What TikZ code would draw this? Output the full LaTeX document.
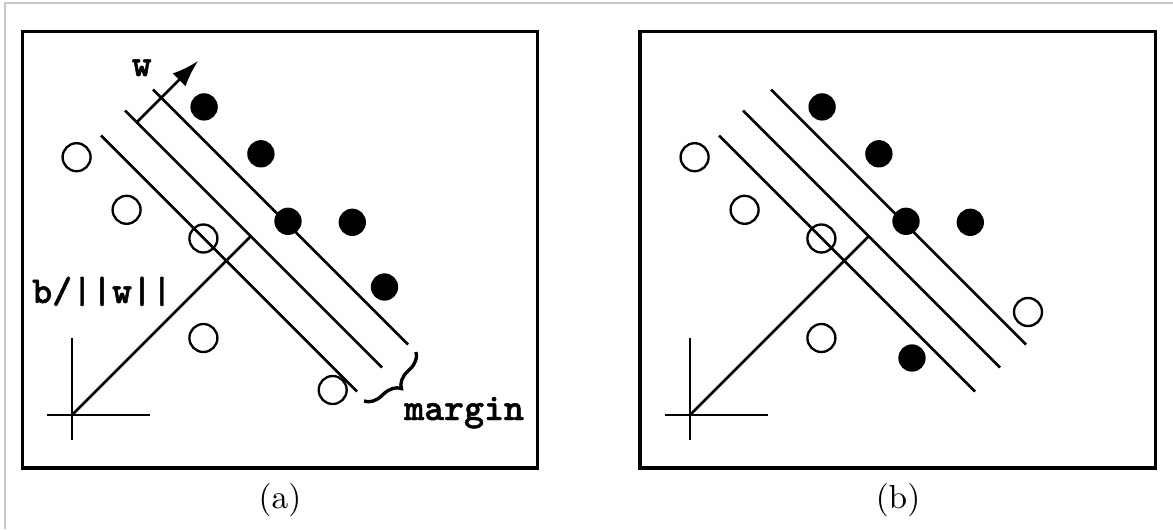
\documentclass[tikz,border=0pt]{standalone}
\usepackage{fontspec}
\usetikzlibrary{arrows.meta, decorations.pathreplacing}
\newfontfamily\marginfont[FakeBold=1.2]{lmmonolt10-bold.otf}
\definecolor{edgecol}{RGB}{200,200,200}
\definecolor{inkcol}{RGB}{0,0,0}

\begin{document}
\begin{tikzpicture}[
    x=0.3pt, y=-0.3pt,
    >=Latex,
    line width=0.75pt,
    hollowpt/.style={circle, draw=inkcol, line width=0.7pt, minimum size=8.4pt, inner sep=0pt},
    solidpt/.style={circle, fill=inkcol, minimum size=8.2pt, inner sep=0pt},
    ttlabel/.style={font=\marginfont\fontsize{11.4}{13}\selectfont, inner sep=0pt},
    panelbox/.style={line width=1pt}
  ]
  \useasboundingbox (0,0) rectangle (1173,529);

  % --- screenshot edge -------------------------------------------------
  \coordinate (EdgeTR) at (1173,3);
  \coordinate (EdgeTL) at (5,3);
  \coordinate (EdgeBL) at (5,529);
  \draw[edgecol, line width=0.4pt] (EdgeTR) -- (EdgeTL) -- (EdgeBL);

  % ======================= panel (a) ===================================
  % --- coordinates -----------------------------------------------------
  \coordinate (Origin)    at (72,415);
  \coordinate (AxisTop)   at (72,338);
  \coordinate (AxisBot)   at (72,440);
  \coordinate (AxisLeft)  at (47,415);
  \coordinate (AxisRight) at (150,415);
  \coordinate (Foot)      at (250.75,236.25);
  \coordinate (LowStart)  at (101,135.5);
  \coordinate (LowEnd)    at (357,391.5);
  \coordinate (MidStart)  at (125,110.5);
  \coordinate (MidEnd)    at (382,367.5);
  \coordinate (HighStart) at (153,89.5);
  \coordinate (HighEnd)   at (408,344.5);
  \coordinate (WBase)     at (136.75,122.25);
  \coordinate (WTip)      at (198,61);
  \coordinate (BraceTop)  at (416,352);
  \coordinate (BraceBot)  at (364,401);

  \draw[panelbox] (22.5,31.5) rectangle (537.5,468);

  % --- axes and offset -------------------------------------------------
  \draw (AxisTop) -- (AxisBot);
  \draw (AxisLeft) -- (AxisRight);
  \draw (Origin) -- (Foot);

  % --- separating lines ------------------------------------------------
  \draw (LowStart) -- (LowEnd);
  \draw (MidStart) -- (MidEnd);
  \draw (HighStart) -- (HighEnd);

  % normal vector
  \draw[-{Latex[length=8pt, width=5.5pt]}] (WBase) -- (WTip);

  % margin brace
  \draw[decorate, decoration={brace, amplitude=5pt}, line width=1pt]
    (BraceTop) -- (BraceBot);

  % --- points ----------------------------------------------------------
  \node[hollowpt] (Hol1) at (76.6,157.2) {};
  \node[hollowpt] (Hol2) at (126.6,209.8) {};
  \node[hollowpt] (Hol3) at (203.4,238.5) {};
  \node[hollowpt] (Hol4) at (203.4,338) {};
  \node[hollowpt] (Hol5) at (332.7,390) {};

  \node[solidpt] (Sol1) at (204.1,106.9) {};
  \node[solidpt] (Sol2) at (260.9,153.8) {};
  \node[solidpt] (Sol3) at (288,221.3) {};
  \node[solidpt] (Sol4) at (352.3,222.3) {};
  \node[solidpt] (Sol5) at (384.5,287) {};

  % --- labels ----------------------------------------------------------
  \node[ttlabel, anchor=base] (WLabel) at (141.7,76) {w};
  \node[ttlabel, anchor=base west] (OffsetLabel) at (31,303) {b/||w||};
  \node[ttlabel, anchor=base west] (MarginLabel) at (403,420) {margin};
  \node[anchor=base] (CapA) at (280,508) {(a)};

  % ======================= panel (b) ===================================
  \begin{scope}[shift={(618,0)}]
  \coordinate (OriginB)    at (72,415);
  \coordinate (AxisTopB)   at (72,338);
  \coordinate (AxisBotB)   at (72,440);
  \coordinate (AxisLeftB)  at (47,415);
  \coordinate (AxisRightB) at (150,415);
  \coordinate (FootB)      at (250.75,236.25);
  \coordinate (LowStartB)  at (101,135.5);
  \coordinate (LowEndB)    at (357,391.5);
  \coordinate (MidStartB)  at (125,110.5);
  \coordinate (MidEndB)    at (382,367.5);
  \coordinate (HighStartB) at (153,89.5);
  \coordinate (HighEndB)   at (408,344.5);

  \draw[panelbox] (22,31.5) rectangle (537.5,468);

  \draw (AxisTopB) -- (AxisBotB);
  \draw (AxisLeftB) -- (AxisRightB);
  \draw (OriginB) -- (FootB);

  \draw (LowStartB) -- (LowEndB);
  \draw (MidStartB) -- (MidEndB);
  \draw (HighStartB) -- (HighEndB);

  \node[hollowpt] (HolB1) at (76.6,157.2) {};
  \node[hollowpt] (HolB2) at (126.6,209.8) {};
  \node[hollowpt] (HolB3) at (203.4,238.5) {};
  \node[hollowpt] (HolB4) at (203.4,338) {};
  \node[hollowpt] (HolB5) at (410,312) {};

  \node[solidpt] (SolB1) at (204.1,106.9) {};
  \node[solidpt] (SolB2) at (260.9,153.8) {};
  \node[solidpt] (SolB3) at (288,221.3) {};
  \node[solidpt] (SolB4) at (352.3,222.3) {};
  \node[solidpt] (SolB5) at (294,358) {};

  \node[anchor=base] (CapB) at (280,508) {(b)};
  \end{scope}

\end{tikzpicture}
\end{document}
